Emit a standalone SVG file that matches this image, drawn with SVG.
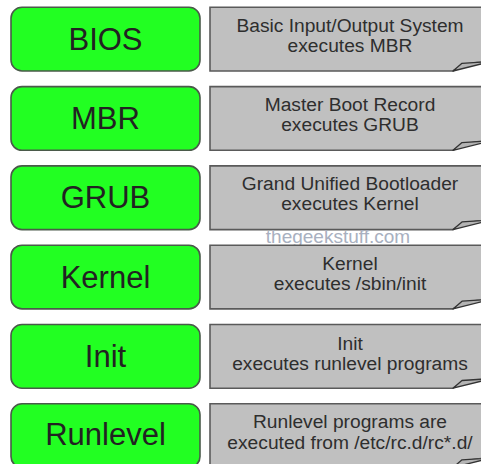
<svg xmlns="http://www.w3.org/2000/svg" width="481" height="464" viewBox="0 0 481 464">
<style>
.stage{fill:#22ff22;stroke:#4a5a4a;stroke-width:1.6}
.stage-t{font-family:"Liberation Sans",Arial,sans-serif;font-size:31px;fill:#222;text-anchor:middle}
.note{fill:#c0c0c0;stroke:#5a5a5a;stroke-width:1.6}
.curl{fill:#b4b4b4;stroke:#333;stroke-width:1.3;stroke-linejoin:round}
.note-t{font-family:"Liberation Sans",Arial,sans-serif;font-size:19.2px;fill:#2e2e2e;text-anchor:middle}
.wm{font-family:"Liberation Sans",Arial,sans-serif;font-size:19px;fill:#a8b0c0;text-anchor:middle}
</style>
<defs>
<g id="notebox">
<path class="note" d="M210,0 H492 V54 C478,55 466,55 453,63.7 H210 Z"/>
<path class="curl" d="M453,63.7 L462,56 L492,54 Z"/>
</g>
</defs>
<rect width="481" height="464" fill="#ffffff"/>
<g id="connectors"></g>

<g id="bios">
<rect class="stage" x="11" y="7.3" width="189" height="63.7" rx="11"/>
<text class="stage-t" x="105.5" y="49.8">BIOS</text>
</g>
<g id="bios-note" transform="translate(0,7.3)">
<use href="#notebox"/>
<text class="note-t" x="350" y="24.5">Basic Input/Output System</text>
<text class="note-t" x="350" y="44.5">executes MBR</text>
</g>

<g id="mbr">
<rect class="stage" x="11" y="86.6" width="189" height="63.7" rx="11"/>
<text class="stage-t" x="105.5" y="129">MBR</text>
</g>
<g id="mbr-note" transform="translate(0,86.6)">
<use href="#notebox"/>
<text class="note-t" x="350" y="24">Master Boot Record</text>
<text class="note-t" x="350" y="44">executes GRUB</text>
</g>

<g id="grub">
<rect class="stage" x="11" y="165.9" width="189" height="63.7" rx="11"/>
<text class="stage-t" x="105.5" y="208.3">GRUB</text>
</g>
<g id="grub-note" transform="translate(0,165.9)">
<use href="#notebox"/>
<text class="note-t" x="350" y="24">Grand Unified Bootloader</text>
<text class="note-t" x="350" y="44">executes Kernel</text>
</g>

<text class="wm" x="338" y="242.5">thegeekstuff.com</text>

<g id="kernel">
<rect class="stage" x="11" y="245.2" width="189" height="63.7" rx="11"/>
<text class="stage-t" x="105.5" y="287.6">Kernel</text>
</g>
<g id="kernel-note" transform="translate(0,245.2)">
<use href="#notebox"/>
<text class="note-t" x="350" y="24.5">Kernel</text>
<text class="note-t" x="350" y="44.5">executes /sbin/init</text>
</g>

<g id="init">
<rect class="stage" x="11" y="324.5" width="189" height="63.7" rx="11"/>
<text class="stage-t" x="105.5" y="366.9">Init</text>
</g>
<g id="init-note" transform="translate(0,324.5)">
<use href="#notebox"/>
<text class="note-t" x="350" y="25">Init</text>
<text class="note-t" x="350" y="45">executes runlevel programs</text>
</g>

<g id="runlevel">
<rect class="stage" x="11" y="403.8" width="189" height="63.7" rx="11"/>
<text class="stage-t" x="105.5" y="445.3">Runlevel</text>
</g>
<g id="runlevel-note" transform="translate(0,403.8)">
<use href="#notebox"/>
<text class="note-t" x="350" y="24.5">Runlevel programs are</text>
<text class="note-t" x="350" y="45">executed from /etc/rc.d/rc*.d/</text>
</g>
</svg>
